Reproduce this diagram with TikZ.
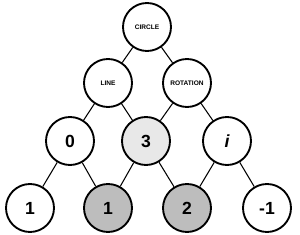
\documentclass[tikz,border=0pt]{standalone}
\usepackage{fontspec}
\setmainfont{Liberation Sans}
\usetikzlibrary{positioning}
\definecolor{lightgrey}{HTML}{E8E8E8}
\definecolor{midgrey}{HTML}{BDBDBD}

\tikzset{
  vertex/.style={circle, draw=black, line width=1.6pt, fill=white, minimum size=1.44cm, inner sep=0pt, font=\bfseries},
  word/.style={vertex, font=\fontsize{5.6}{6}\selectfont\bfseries},
  number/.style={vertex, font=\fontsize{15}{18}\selectfont\bfseries},
  edge/.style={line width=0.9pt, draw=black}
}

\begin{document}
\begin{tikzpicture}[x=0.03cm, y=-0.03cm]
\useasboundingbox (0,0) rectangle (300,235);
% top rows
\node[word] (circle) at (147,27) {CIRCLE};
\node[word] (line) at (108,83) {LINE};
\node[word] (rotation) at (187,83) {ROTATION};
% middle row
\node[number] (zero) at (70,141) {0};
\node[number, fill=lightgrey] (three) at (146,141) {3};
\node[number] (imag) at (227,141) {\itshape i};
% bottom row
\node[number] (oneleft) at (30,208) {1};
\node[number, fill=midgrey] (onegrey) at (108,208) {1};
\node[number, fill=midgrey] (two) at (187,208) {2};
\node[number] (minusone) at (267,208) {-1};
% connectors
\foreach \a/\b in {circle/line, circle/rotation, line/zero, line/three, rotation/three, rotation/imag, zero/oneleft, zero/onegrey, three/onegrey, three/two, imag/two, imag/minusone}
  \draw[edge] (\a) -- (\b);
\end{tikzpicture}
\end{document}
